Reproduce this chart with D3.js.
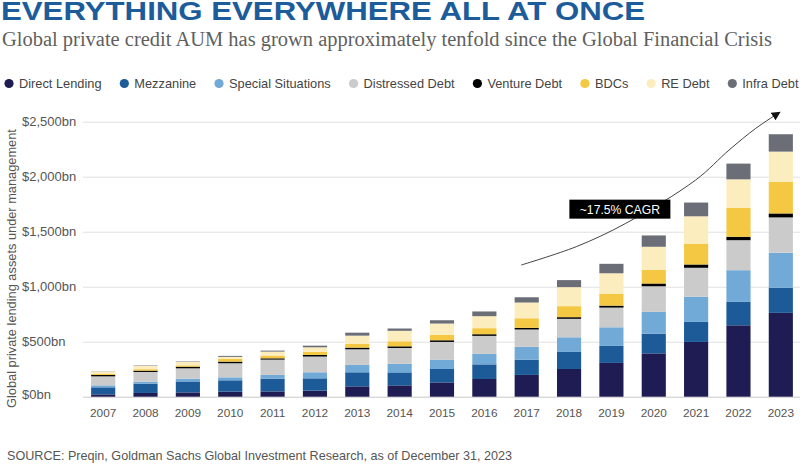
<!DOCTYPE html>
<html>
<head>
<meta charset="utf-8">
<script src="https://cdn.jsdelivr.net/npm/d3@7"></script>
<style>
  body { margin: 0; background: #fff; }
  svg { display: block; }
</style>
</head>
<body>
<div id="chart"></div>
<script>
// Donnees (en milliards de dollars)
var annees = ["2007", "2008", "2009", "2010", "2011", "2012", "2013", "2014", "2015", "2016", "2017", "2018", "2019", "2020", "2021", "2022", "2023"];
var directLending = [21, 34, 39, 46, 48, 55, 94, 103, 130, 161, 198, 252, 307, 394, 498, 649, 762];
var mezzanine = [64, 85, 100, 103, 116, 112, 128, 118, 122, 133, 139, 155, 155, 179, 182, 213, 228];
var specialSituations = [18, 18, 25, 27, 34, 55, 67, 79, 85, 95, 116, 133, 169, 198, 228, 288, 319];
var distressedDebt = [82, 88, 94, 128, 139, 143, 142, 143, 161, 164, 158, 168, 179, 233, 264, 273, 321];
var ventureDebt = [13, 12, 15, 15, 12, 15, 15, 15, 15, 15, 15, 15, 18, 25, 30, 31, 36];
var bdcs = [12, 13, 12, 25, 25, 27, 36, 46, 49, 55, 87, 100, 109, 125, 189, 264, 289];
var reDebt = [18, 30, 31, 18, 36, 42, 73, 95, 103, 109, 143, 173, 185, 209, 249, 258, 273];
var infraDebt = [2, 4, 4, 9, 9, 15, 27, 21, 30, 43, 48, 64, 86, 103, 125, 143, 158];

var series = ["Direct Lending", "Mezzanine", "Special Situations", "Distressed Debt", "Venture Debt", "BDCs", "RE Debt", "Infra Debt"];
var couleurs = ["#1f1c53", "#1c5b98", "#71a9d7", "#cbcbcb", "#000000", "#f5c843", "#fcedbf", "#6b6e77"];
var ticks = [0, 500, 1000, 1500, 2000, 2500];

// Fleche CAGR : (position en annees depuis 2007, valeur)
var flecheCagr = [[9.87, 1197], [11.17, 1364], [12.34, 1576], [13.99, 1970], [14.78, 2243], [15.41, 2440], [15.96, 2582]];
var libelleCagr = "~17.5% CAGR";

var largeur = 800, hauteur = 471;
var sans = "'Liberation Sans', Arial, sans-serif";

var svg = d3.select("#chart").append("svg").attr("width", largeur).attr("height", hauteur);

// Lignes de donnees pour d3.stack
var valeurs = [directLending, mezzanine, specialSituations, distressedDebt, ventureDebt, bdcs, reDebt, infraDebt];
var lignes = annees.map(function (a, i) {
    var ligne = { annee: a };
    series.forEach(function (s, j) { ligne[s] = valeurs[j][i]; });
    return ligne;
});
var pile = d3.stack().keys(series)(lignes);

// Echelles
var x = d3.scaleBand().domain(annees).range([82, 802]).paddingInner(0.43).paddingOuter(0.215);
var y = d3.scaleLinear().domain([0, 2500]).range([396.7, 121.7]);
var couleur = d3.scaleOrdinal().domain(series).range(couleurs);

// Titre
svg.append("text")
    .attr("x", 1).attr("y", 19.5)
    .attr("font-family", sans).attr("font-weight", 900).attr("font-size", 26)
    .attr("fill", "#1d5c9b")
    .attr("textLength", 644).attr("lengthAdjust", "spacingAndGlyphs")
    .text("EVERYTHING EVERYWHERE ALL AT ONCE");

svg.append("text")
    .attr("x", 2).attr("y", 46)
    .attr("font-family", "'Liberation Serif', 'DejaVu Serif', serif").attr("font-size", 20)
    .attr("fill", "#5f5f5f")
    .attr("textLength", 770).attr("lengthAdjust", "spacingAndGlyphs")
    .text("Global private credit AUM has grown approximately tenfold since the Global Financial Crisis");

// Legende
var legende = svg.append("g").attr("transform", "translate(0, 83.5)");
var curseur = 9;
series.forEach(function (s) {
    var item = legende.append("g").attr("transform", "translate(" + curseur + ",0)");
    item.append("circle").attr("r", 4.6).attr("fill", couleur(s));
    var t = item.append("text")
        .attr("x", 10).attr("dy", "0.35em")
        .attr("font-family", sans).attr("font-size", 12.8)
        .attr("fill", "#444")
        .text(s);
    curseur += 10 + t.node().getComputedTextLength() + 22.8;
});

// Grille et axe y
var axeY = d3.axisLeft(y).tickValues(ticks).tickSize(0)
    .tickFormat(function (d) { return "$" + d3.format(",")(d) + "bn"; });
var gy = svg.append("g").call(axeY);
gy.select(".domain").remove();
gy.selectAll(".tick text")
    .attr("x", 22).attr("text-anchor", "start").attr("dy", "0.33em")
    .attr("font-family", sans).attr("font-size", 13).attr("fill", "#555");
gy.selectAll(".tick line")
    .attr("x1", 83).attr("x2", 800)
    .attr("stroke", function (d) { return d === 0 ? "#c8c8c8" : "#e0e0e0"; }).attr("stroke-width", 1);
gy.select(".tick text").attr("dy", "0.1em");

svg.append("text")
    .attr("transform", "translate(12," + y(1165) + ") rotate(-90)")
    .attr("text-anchor", "middle").attr("dy", "0.35em")
    .attr("font-family", sans).attr("font-size", 12.8).attr("fill", "#555")
    .text("Global private lending assets under management");

// Barres empilees
svg.append("g").selectAll("g.serie").data(pile).enter().append("g")
    .attr("class", "serie")
    .attr("fill", function (d) { return couleur(d.key); })
    .selectAll("rect").data(function (d) { return d; }).enter().append("rect")
    .attr("x", function (d) { return x(d.data.annee); })
    .attr("width", x.bandwidth())
    .attr("y", function (d) { return y(d[1]); })
    .attr("height", function (d) { return y(d[0]) - y(d[1]); });

// Axe x
var gx = svg.append("g").attr("transform", "translate(0," + y(0) + ")")
    .call(d3.axisBottom(x).tickSize(0).tickPadding(12));
gx.select(".domain").remove();
gx.selectAll(".tick text")
    .attr("font-family", sans).attr("font-size", 11.8).attr("fill", "#555");

// Fleche de croissance
var defs = svg.append("defs");
defs.append("marker")
    .attr("id", "pointe").attr("viewBox", "0 0 10 10")
    .attr("refX", 8).attr("refY", 5)
    .attr("markerWidth", 9).attr("markerHeight", 9)
    .attr("markerUnits", "userSpaceOnUse")
    .attr("orient", "auto")
    .append("path").attr("d", "M0,0 L10,5 L0,10 z").attr("fill", "#111");

var x0 = x(annees[0]) + x.bandwidth() / 2;
var ligneFleche = d3.line()
    .x(function (d) { return x0 + d[0] * x.step(); })
    .y(function (d) { return y(d[1]); })
    .curve(d3.curveCatmullRom);
svg.append("path")
    .attr("d", ligneFleche(flecheCagr))
    .attr("fill", "none").attr("stroke", "#444").attr("stroke-width", 1)
    .attr("marker-end", "url(#pointe)");

// Etiquette CAGR
var cx = x0 + 12.2 * x.step(), cy = y(1705);
var etiquette = svg.append("g").attr("transform", "translate(" + cx + "," + cy + ")");
etiquette.append("rect")
    .attr("x", -50.5).attr("y", -9.5).attr("width", 101).attr("height", 19)
    .attr("fill", "#000");
etiquette.append("text")
    .attr("text-anchor", "middle").attr("dy", "0.36em")
    .attr("font-family", sans).attr("font-size", 12.2).attr("fill", "#fff")
    .text(libelleCagr);

// Source
svg.append("text")
    .attr("x", 7).attr("y", 460)
    .attr("font-family", sans).attr("font-size", 12.4).attr("fill", "#555")
    .attr("textLength", 505).attr("lengthAdjust", "spacingAndGlyphs")
    .text("SOURCE: Preqin, Goldman Sachs Global Investment Research, as of December 31, 2023");
</script>
</body>
</html>
